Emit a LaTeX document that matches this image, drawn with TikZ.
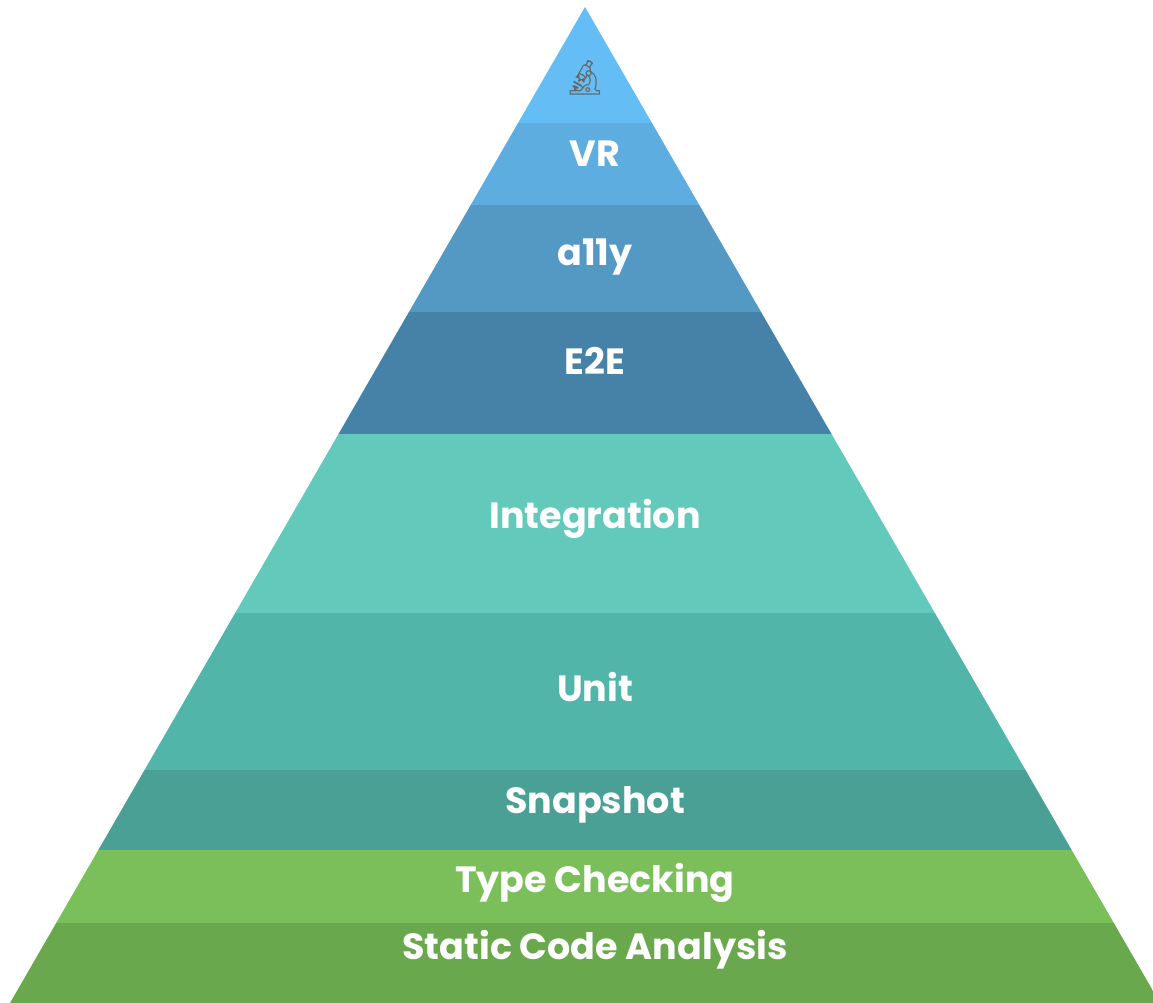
\documentclass[tikz,border=0pt]{standalone}
\usepackage{fontspec}
\setmainfont{Poppins}[BoldFont={* Bold}]
\newfontfamily\emojifont{Noto Emoji}
\definecolor{cA}{HTML}{64BEF5}
\definecolor{cB}{HTML}{5DADE0}
\definecolor{cC}{HTML}{5499C4}
\definecolor{cD}{HTML}{4682A8}
\definecolor{cE}{HTML}{62C9BB}
\definecolor{cF}{HTML}{52B5A9}
\definecolor{cG}{HTML}{4AA095}
\definecolor{cH}{HTML}{7BBF5A}
\definecolor{cI}{HTML}{6AA84D}
\tikzset{lbl/.style={text=white,font=\bfseries\fontsize{36.5}{36.5}\selectfont,inner sep=0pt,anchor=center}}
\begin{document}
\begin{tikzpicture}[x=1pt,y=-1pt]
\useasboundingbox (0,0) rectangle (1153,1003);
\begin{scope}
\clip (585,7) -- (10,1003) -- (1160,1003) -- cycle;
\fill[cA] (0,0) rectangle (1160,123);
\fill[cB] (0,123) rectangle (1160,205);
\fill[cC] (0,205) rectangle (1160,312);
\fill[cD] (0,312) rectangle (1160,434);
\fill[cE] (0,434) rectangle (1160,613);
\fill[cF] (0,613) rectangle (1160,770);
\fill[cG] (0,770) rectangle (1160,850);
\fill[cH] (0,850) rectangle (1160,923);
\fill[cI] (0,923) rectangle (1160,1003);
\end{scope}
\node[text=gray!80!black,font=\emojifont\fontsize{34}{34}\selectfont,inner sep=0pt] (icon) at (585,78) {🔬};
\node[lbl] (vr) at (595,154) {VR};
\node[lbl] (a11y) at (595,257) {a11y};
\node[lbl] (e2e) at (595,361) {E2E};
\node[lbl] (integ) at (595,519) {Integration};
\node[lbl] (unit) at (595,687) {Unit};
\node[lbl] (snap) at (595,805) {Snapshot};
\node[lbl] (type) at (595,883) {Type Checking};
\node[lbl] (static) at (595,950) {Static Code Analysis};
\end{tikzpicture}
\end{document}
